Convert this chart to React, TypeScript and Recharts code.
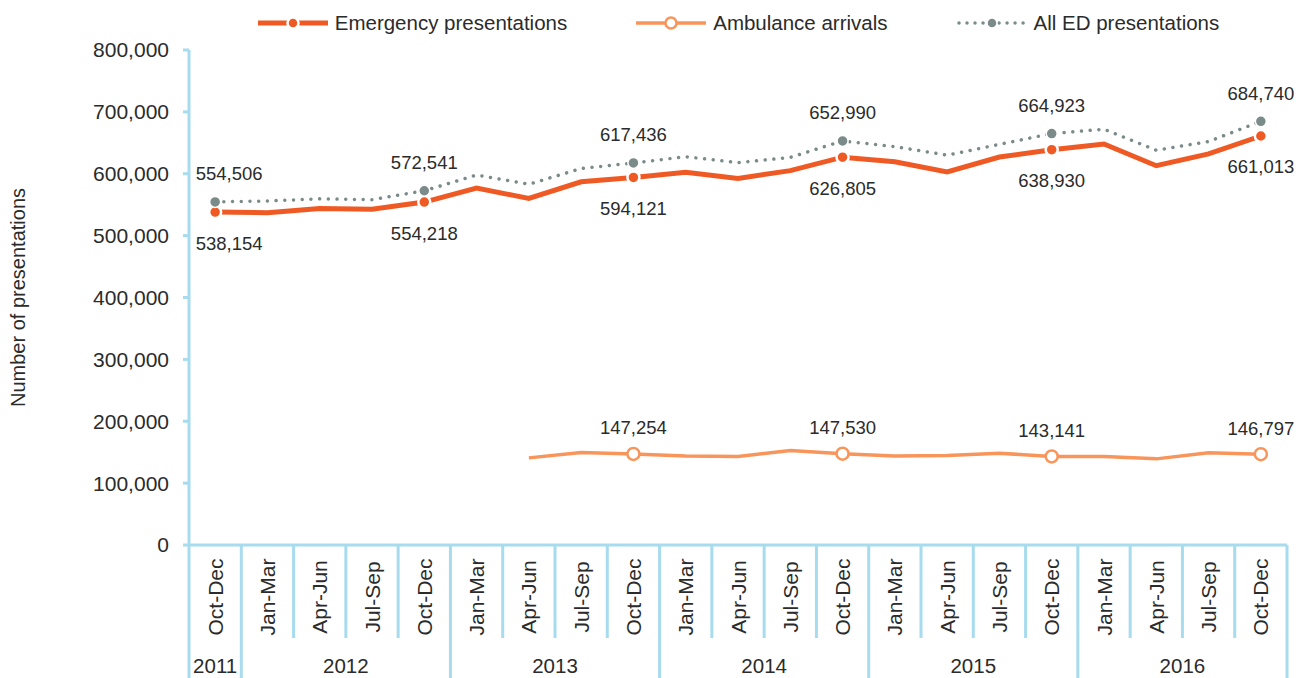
import React from 'react'
import { LineChart, Line, XAxis, YAxis, LabelList } from 'recharts'

const quarters = [
  'Oct-Dec',
  'Jan-Mar', 'Apr-Jun', 'Jul-Sep', 'Oct-Dec',
  'Jan-Mar', 'Apr-Jun', 'Jul-Sep', 'Oct-Dec',
  'Jan-Mar', 'Apr-Jun', 'Jul-Sep', 'Oct-Dec',
  'Jan-Mar', 'Apr-Jun', 'Jul-Sep', 'Oct-Dec',
  'Jan-Mar', 'Apr-Jun', 'Jul-Sep', 'Oct-Dec',
]
const years = [
  '2011',
  '2012', '2012', '2012', '2012',
  '2013', '2013', '2013', '2013',
  '2014', '2014', '2014', '2014',
  '2015', '2015', '2015', '2015',
  '2016', '2016', '2016', '2016',
]
const emergency = [
  538154, 537000, 544000, 542500, 554218, 577000, 560000, 587000, 594121, 602500, 592500,
  605000, 626805, 619500, 603000, 627000, 638930, 648000, 613000, 632000, 661013,
]
const ambulance = [
  null, null, null, null, null, null, 140800, 149400, 147254, 144000, 143000,
  152600, 147530, 143800, 144600, 148300, 143141, 143100, 139200, 148900, 146797,
]
const allEd = [
  554506, 556000, 559500, 558000, 572541, 598000, 583000, 608500, 617436, 627500, 618000,
  626500, 652990, 643800, 630000, 647500, 664923, 672000, 638000, 652000, 684740,
]
const yTicks = [0, 100000, 200000, 300000, 400000, 500000, 600000, 700000, 800000]

const ORANGE = '#EF5A24'
const LIGHT = '#F8955A'
const GREY = '#7B8B8A'
const BLUE = '#A7DBEE'
const TEXT = '#2B2B2B'
const FONT = '"Liberation Sans", Arial, sans-serif'

const rows = quarters.map((q, i) => ({
  key: `${q} ${years[i]}`,
  quarter: q,
  year: years[i],
  emergency: emergency[i],
  ambulance: ambulance[i],
  allEd: allEd[i],
}))

const isLabelled = (i: number) => rows[i]?.quarter === 'Oct-Dec'
const fmt = (v: number) => v.toLocaleString('en-US')

// chart frame
const WIDTH = 1299
const HEIGHT = 678
const Y_AXIS_W = 189
const RIGHT = 12
const CAT_ROW = 93
const YEAR_ROW = 40
const HALF_BAND = (WIDTH - Y_AXIS_W - RIGHT) / rows.length / 2

const CategoryTick = (props: any) => {
  const { x, y, payload } = props
  const i = payload.index
  const half = HALF_BAND
  const d = rows[i]
  const first = i === 0 || rows[i - 1].year !== d.year
  const last = i === rows.length - 1 || rows[i + 1].year !== d.year
  const groupSize = rows.filter((r) => r.year === d.year).length
  const line = { stroke: BLUE, strokeWidth: 3 }
  return (
    <g>
      <line x1={x - half} x2={x - half} y1={y} y2={y + CAT_ROW} {...line} />
      {i === rows.length - 1 && <line x1={x + half} x2={x + half} y1={y} y2={y + CAT_ROW} {...line} />}
      <text
        transform={`translate(${x},${y + 52}) rotate(-90)`}
        textAnchor="middle"
        dominantBaseline="central"
        fontSize={21}
        fill={TEXT}
        fontFamily={FONT}
      >
        {d.quarter}
      </text>
      {first && <line x1={x - half} x2={x - half} y1={y + CAT_ROW} y2={y + CAT_ROW + YEAR_ROW} {...line} />}
      {i === rows.length - 1 && (
        <line x1={x + half} x2={x + half} y1={y + CAT_ROW} y2={y + CAT_ROW + YEAR_ROW} {...line} />
      )}
      {first && (
        <text
          x={x - half + groupSize * half}
          y={y + 120}
          textAnchor="middle"
          dominantBaseline="central"
          fontSize={20.5}
          fill={TEXT}
          fontFamily={FONT}
        >
          {d.year}
        </text>
      )}
      {last && null}
    </g>
  )
}

const makeLabel = (dy: number) => (p: any) => {
  const idx = p.index
  if (!isLabelled(idx) || p.value == null) return null
  const px = p.x ?? p.viewBox?.x
  const py = p.y ?? p.viewBox?.y
  if (px == null || py == null) return null
  const x = idx === 0 ? px + 14 : px
  return (
    <text
      key={`l-${idx}`}
      x={x}
      y={py + dy}
      textAnchor="middle"
      dominantBaseline="central"
      fontSize={18.5}
      fill={TEXT}
      fontFamily={FONT}
    >
      {fmt(Number(p.value))}
    </text>
  )
}

const emergencyDot = (p: any) =>
  isLabelled(p.index) && p.cy != null ? (
    <circle key={`e-${p.index}`} cx={p.cx} cy={p.cy} r={6} fill={ORANGE} stroke="#fff" strokeWidth={2.5} />
  ) : (
    <g key={`e-${p.index}`} />
  )

const ambulanceDot = (p: any) =>
  isLabelled(p.index) && p.value != null && p.cy != null ? (
    <circle key={`a-${p.index}`} cx={p.cx} cy={p.cy} r={6} fill="#fff" stroke={LIGHT} strokeWidth={2.5} />
  ) : (
    <g key={`a-${p.index}`} />
  )

const allEdDot = (p: any) =>
  isLabelled(p.index) && p.cy != null ? (
    <circle key={`g-${p.index}`} cx={p.cx} cy={p.cy} r={5.5} fill={GREY} stroke="#fff" strokeWidth={1.5} />
  ) : (
    <g key={`g-${p.index}`} />
  )

const LegendItem = ({ kind, text }: { kind: string; text: string }) => (
  <div style={{ display: 'flex', alignItems: 'center' }}>
    <svg width={72} height={20}>
      {kind === 'e' && (
        <>
          <line x1={1} x2={71} y1={10} y2={10} stroke={ORANGE} strokeWidth={5} />
          <circle cx={36} cy={10} r={5.5} fill={ORANGE} stroke="#fff" strokeWidth={2.5} />
        </>
      )}
      {kind === 'a' && (
        <>
          <line x1={1} x2={71} y1={10} y2={10} stroke={LIGHT} strokeWidth={3.5} />
          <circle cx={36} cy={10} r={5.5} fill="#fff" stroke={LIGHT} strokeWidth={2.5} />
        </>
      )}
      {kind === 'g' && (
        <>
          <line x1={3} x2={71} y1={10} y2={10} stroke={GREY} strokeWidth={3.5} strokeDasharray="0.01 8" strokeLinecap="round" />
          <circle cx={36} cy={10} r={5} fill={GREY} stroke="#fff" strokeWidth={1.5} />
        </>
      )}
    </svg>
    <span style={{ marginLeft: 6, fontSize: 20.5, color: TEXT }}>{text}</span>
  </div>
)

export default function App() {
  return (
    <div style={{ position: 'absolute', left: 0, top: 0, width: WIDTH, height: HEIGHT, fontFamily: FONT, background: '#fff' }}>
      <div
        style={{
          position: 'absolute',
          left: Y_AXIS_W,
          top: 0,
          width: WIDTH - Y_AXIS_W - RIGHT,
          height: 46,
          display: 'flex',
          justifyContent: 'center',
          alignItems: 'center',
          gap: 68,
          zIndex: 2,
        }}
      >
        <LegendItem kind="e" text="Emergency presentations" />
        <LegendItem kind="a" text="Ambulance arrivals" />
        <LegendItem kind="g" text="All ED presentations" />
      </div>
      <LineChart width={WIDTH} height={HEIGHT} data={rows} margin={{ top: 50, right: RIGHT, bottom: 0, left: 0 }}>
        <XAxis
          dataKey="key"
          interval={0}
          height={CAT_ROW + YEAR_ROW}
          padding={{ left: HALF_BAND, right: HALF_BAND }}
          tickSize={0}
          tickMargin={0}
          tickLine={false}
          axisLine={{ stroke: BLUE, strokeWidth: 3 }}
          tick={<CategoryTick />}
        />
        <YAxis
          width={Y_AXIS_W}
          domain={[0, 800000]}
          ticks={yTicks}
          interval={0}
          tickFormatter={fmt}
          tickSize={6}
          tickMargin={14}
          tickLine={{ stroke: BLUE, strokeWidth: 3 }}
          axisLine={{ stroke: BLUE, strokeWidth: 3 }}
          tick={{ fontSize: 21, fill: TEXT, fontFamily: FONT }}
          label={(p: any) => {
            const vb = p.viewBox || { x: 0, y: 50, height: 495 }
            const cy = vb.y + vb.height / 2
            return (
              <text
                transform={`translate(18,${cy}) rotate(-90)`}
                textAnchor="middle"
                dominantBaseline="central"
                fontSize={20}
                fill={TEXT}
                fontFamily={FONT}
              >
                Number of presentations
              </text>
            )
          }}
        />
        <Line
          dataKey="emergency"
          stroke={ORANGE}
          strokeWidth={5}
          dot={emergencyDot}
          activeDot={false}
          isAnimationActive={false}
        >
          <LabelList dataKey="emergency" content={makeLabel(31)} />
        </Line>
        <Line
          dataKey="ambulance"
          stroke={LIGHT}
          strokeWidth={3.5}
          dot={ambulanceDot}
          activeDot={false}
          connectNulls={false}
          isAnimationActive={false}
        >
          <LabelList dataKey="ambulance" content={makeLabel(-26)} />
        </Line>
        <Line
          dataKey="allEd"
          stroke={GREY}
          strokeWidth={3.5}
          strokeDasharray="0.01 8.7"
          strokeLinecap="round"
          dot={allEdDot}
          activeDot={false}
          isAnimationActive={false}
        >
          <LabelList dataKey="allEd" content={makeLabel(-28)} />
        </Line>
      </LineChart>
    </div>
  )
}
